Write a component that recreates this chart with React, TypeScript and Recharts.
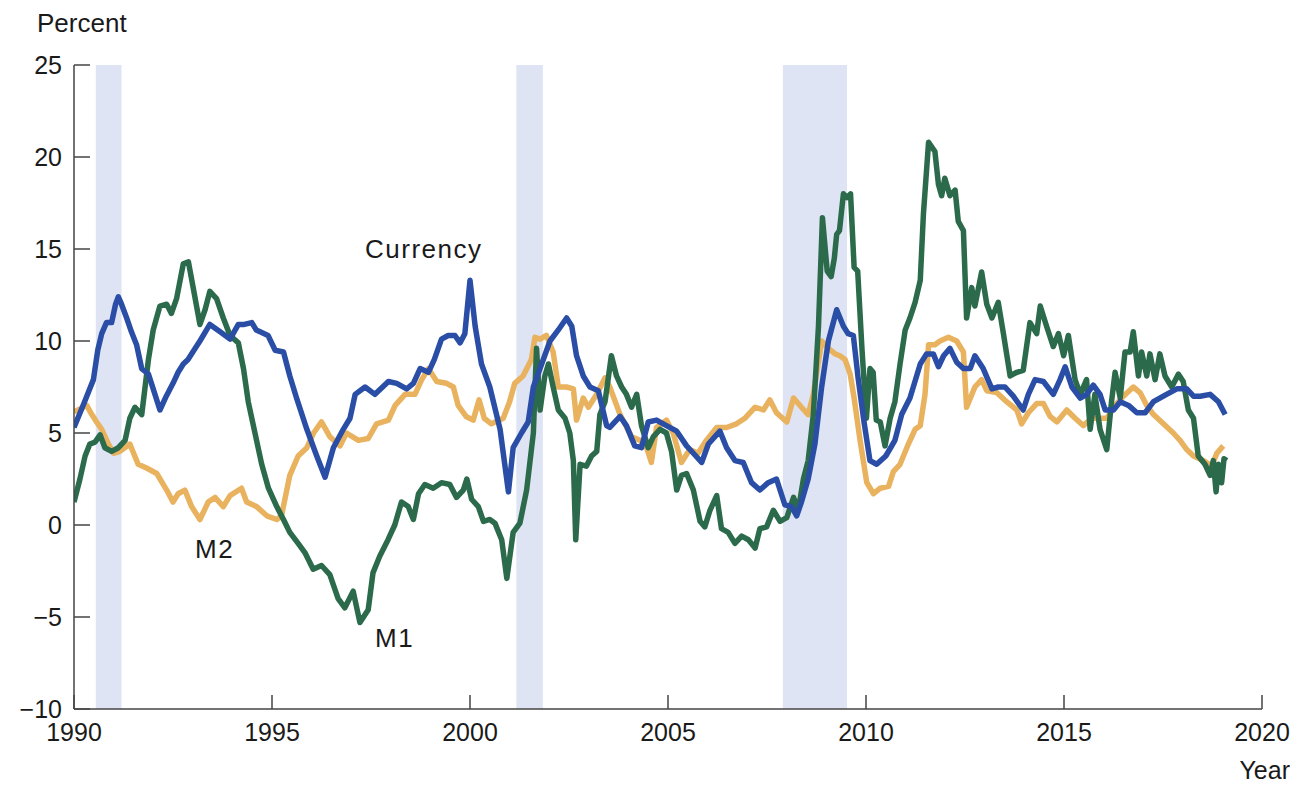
import { LineChart, Line, XAxis, YAxis, ReferenceArea, Customized } from 'recharts';

// axis ticks
const yearTicks = [1990, 1995, 2000, 2005, 2010, 2015, 2020];
const percentTicks = [-10, -5, 0, 5, 10, 15, 20, 25];

// recession periods (start, end in fractional years)
const recessions = [
  [1990.55, 1991.2],
  [2001.17, 2001.84],
  [2007.9, 2009.52],
];

// year-over-year growth, percent: [year, value]
const currency = [
  [1990.0, 5.3], [1990.25, 6.6], [1990.49, 7.9], [1990.6, 9.5], [1990.7, 10.4], [1990.82, 11.0],
  [1990.95, 11.0], [1991.05, 12.0], [1991.12, 12.4], [1991.2, 12.0], [1991.33, 11.25], [1991.45, 10.5],
  [1991.58, 9.8], [1991.71, 8.5], [1991.88, 8.2], [1992.0, 7.4], [1992.17, 6.25], [1992.33, 7.0],
  [1992.5, 7.7], [1992.63, 8.3], [1992.76, 8.75], [1992.88, 9.0], [1993.0, 9.4], [1993.18, 10.0],
  [1993.43, 10.9], [1993.69, 10.5], [1993.94, 10.1], [1994.15, 10.9], [1994.3, 10.9], [1994.49, 11.0],
  [1994.6, 10.6], [1994.7, 10.5], [1994.9, 10.3], [1995.08, 9.5], [1995.29, 9.4], [1995.45, 8.1],
  [1995.62, 6.9], [1995.88, 5.2], [1996.13, 3.75], [1996.34, 2.6], [1996.55, 4.2], [1996.8, 5.2],
  [1996.97, 5.8], [1997.1, 7.1], [1997.35, 7.5], [1997.6, 7.1], [1997.94, 7.8], [1998.15, 7.7],
  [1998.4, 7.4], [1998.57, 7.7], [1998.74, 8.5], [1998.95, 8.3], [1999.1, 9.0], [1999.28, 10.1],
  [1999.45, 10.3], [1999.62, 10.3], [1999.75, 9.9], [1999.87, 10.4], [2000.0, 13.3], [2000.13, 10.8],
  [2000.29, 8.75], [2000.5, 7.5], [2000.76, 5.2], [2000.97, 1.8], [2001.09, 4.2], [2001.3, 5.0],
  [2001.47, 5.6], [2001.6, 7.5], [2001.81, 8.75], [2002.02, 10.0], [2002.23, 10.6], [2002.44, 11.25],
  [2002.57, 10.8], [2002.69, 9.2], [2002.86, 8.1], [2003.03, 7.5], [2003.24, 7.3], [2003.45, 5.4],
  [2003.53, 5.3], [2003.79, 5.9], [2003.95, 5.4], [2004.16, 4.3], [2004.33, 4.2], [2004.5, 5.6],
  [2004.71, 5.7], [2004.96, 5.4], [2005.22, 5.1], [2005.47, 4.3], [2005.64, 3.9], [2005.85, 3.4],
  [2006.02, 4.4], [2006.31, 5.1], [2006.48, 4.2], [2006.69, 3.5], [2006.9, 3.4], [2007.11, 2.3],
  [2007.32, 1.9], [2007.53, 2.3], [2007.74, 2.5], [2007.95, 1.1], [2008.12, 1.0], [2008.25, 0.5],
  [2008.37, 1.25], [2008.54, 2.5], [2008.71, 4.4], [2008.88, 7.5], [2009.05, 10.0], [2009.26, 11.7],
  [2009.43, 10.8], [2009.55, 10.4], [2009.68, 10.3], [2009.8, 8.0], [2009.95, 5.6], [2010.1, 3.5],
  [2010.27, 3.3], [2010.5, 3.75], [2010.73, 4.6], [2010.9, 6.0], [2011.11, 6.9], [2011.37, 8.75],
  [2011.53, 9.3], [2011.7, 9.3], [2011.83, 8.6], [2011.96, 9.2], [2012.12, 9.6], [2012.29, 8.85],
  [2012.46, 8.5], [2012.63, 8.5], [2012.75, 9.2], [2012.96, 8.5], [2013.18, 7.4], [2013.34, 7.5],
  [2013.51, 7.5], [2013.72, 7.0], [2013.97, 6.25], [2014.1, 7.1], [2014.27, 7.9], [2014.48, 7.8],
  [2014.73, 7.1], [2014.9, 7.9], [2015.03, 8.6], [2015.2, 7.5], [2015.41, 6.9], [2015.57, 7.1],
  [2015.74, 7.6], [2015.91, 7.1], [2016.04, 6.25], [2016.25, 6.25], [2016.42, 6.7], [2016.63, 6.5],
  [2016.84, 6.1], [2017.05, 6.1], [2017.26, 6.7], [2017.59, 7.1], [2017.85, 7.4], [2018.1, 7.4],
  [2018.27, 7.0], [2018.44, 7.0], [2018.69, 7.1], [2018.9, 6.7], [2019.07, 6.0],
];

const m2 = [
  [1990.0, 6.15], [1990.15, 6.3], [1990.32, 6.5], [1990.45, 6.0], [1990.57, 5.6], [1990.7, 5.2],
  [1990.87, 4.4], [1991.0, 3.9], [1991.16, 4.0], [1991.41, 4.4], [1991.62, 3.3], [1991.83, 3.1],
  [1992.09, 2.8], [1992.34, 1.9], [1992.5, 1.25], [1992.63, 1.7], [1992.8, 1.9], [1992.97, 1.0],
  [1993.18, 0.3], [1993.39, 1.25], [1993.56, 1.5], [1993.77, 1.0], [1993.94, 1.6], [1994.23, 2.0],
  [1994.36, 1.25], [1994.61, 1.0], [1994.87, 0.5], [1995.12, 0.3], [1995.24, 0.5], [1995.45, 2.7],
  [1995.66, 3.75], [1995.88, 4.2], [1996.05, 5.0], [1996.25, 5.6], [1996.46, 4.8], [1996.72, 4.3],
  [1996.88, 5.0], [1997.18, 4.6], [1997.43, 4.7], [1997.64, 5.5], [1997.94, 5.7], [1998.11, 6.5],
  [1998.36, 7.1], [1998.61, 7.1], [1998.78, 7.9], [1998.95, 8.5], [1999.16, 7.8], [1999.41, 7.7],
  [1999.58, 7.5], [1999.7, 6.5], [1999.9, 5.9], [2000.08, 5.7], [2000.23, 6.8], [2000.36, 5.8],
  [2000.54, 5.5], [2000.84, 5.8], [2001.0, 6.7], [2001.13, 7.7], [2001.34, 8.1], [2001.55, 9.0],
  [2001.64, 10.2], [2001.77, 10.1], [2001.93, 10.3], [2002.1, 9.4], [2002.23, 7.5], [2002.44, 7.5],
  [2002.61, 7.4], [2002.69, 5.7], [2002.86, 6.9], [2002.99, 6.4], [2003.2, 7.1], [2003.41, 8.0],
  [2003.53, 7.5], [2003.79, 6.0], [2004.08, 4.8], [2004.29, 4.6], [2004.46, 4.2], [2004.58, 3.4],
  [2004.71, 5.3], [2004.96, 5.7], [2005.13, 5.0], [2005.34, 3.4], [2005.55, 4.1], [2005.76, 3.9],
  [2005.97, 4.6], [2006.23, 5.3], [2006.48, 5.3], [2006.73, 5.5], [2006.94, 5.8], [2007.2, 6.4],
  [2007.41, 6.25], [2007.57, 6.8], [2007.74, 6.1], [2008.0, 5.6], [2008.17, 6.9], [2008.37, 6.4],
  [2008.54, 6.0], [2008.67, 7.1], [2008.88, 10.0], [2009.05, 9.6], [2009.22, 9.3], [2009.34, 9.2],
  [2009.47, 9.0], [2009.6, 8.2], [2009.7, 6.9], [2009.85, 4.6], [2010.02, 2.3], [2010.19, 1.7],
  [2010.36, 2.0], [2010.57, 2.1], [2010.69, 2.9], [2010.86, 3.3], [2011.07, 4.4], [2011.24, 5.2],
  [2011.37, 5.4], [2011.49, 7.1], [2011.58, 9.8], [2011.74, 9.8], [2011.87, 10.0], [2012.08, 10.2],
  [2012.29, 10.0], [2012.46, 9.4], [2012.54, 6.4], [2012.75, 7.5], [2012.92, 7.9], [2013.05, 7.3],
  [2013.3, 7.2], [2013.55, 6.7], [2013.81, 6.25], [2013.93, 5.5], [2014.1, 6.1], [2014.31, 6.6],
  [2014.48, 6.6], [2014.65, 5.9], [2014.82, 5.6], [2015.07, 6.25], [2015.28, 5.8], [2015.49, 5.4],
  [2015.7, 5.8], [2015.91, 5.8], [2016.08, 5.8], [2016.29, 6.5], [2016.5, 7.0], [2016.75, 7.5],
  [2016.92, 7.2], [2017.09, 6.5], [2017.26, 6.0], [2017.51, 5.5], [2017.76, 5.0], [2017.93, 4.6],
  [2018.1, 4.1], [2018.27, 3.75], [2018.52, 3.5], [2018.73, 3.2], [2018.86, 3.9], [2019.02, 4.3],
];

const m1 = [
  [1990.0, 1.25], [1990.15, 2.5], [1990.28, 3.75], [1990.4, 4.4], [1990.53, 4.5], [1990.66, 4.9],
  [1990.78, 4.2], [1990.95, 4.0], [1991.12, 4.2], [1991.29, 4.6], [1991.41, 5.8], [1991.54, 6.4],
  [1991.71, 6.0], [1991.88, 9.0], [1992.0, 10.6], [1992.17, 11.9], [1992.34, 12.0], [1992.46, 11.5],
  [1992.59, 12.3], [1992.76, 14.2], [1992.89, 14.3], [1993.01, 12.9], [1993.18, 10.9], [1993.31, 11.7],
  [1993.43, 12.7], [1993.6, 12.3], [1993.77, 11.25], [1993.94, 10.3], [1994.15, 9.9], [1994.28, 8.5],
  [1994.4, 6.7], [1994.57, 5.0], [1994.74, 3.3], [1994.91, 2.0], [1995.12, 1.0], [1995.29, 0.3],
  [1995.45, -0.4], [1995.66, -1.0], [1995.83, -1.5], [1996.04, -2.4], [1996.25, -2.2], [1996.46, -2.7],
  [1996.67, -4.0], [1996.84, -4.5], [1997.05, -3.6], [1997.22, -5.3], [1997.43, -4.6], [1997.55, -2.6],
  [1997.72, -1.7], [1997.93, -0.8], [1998.1, 0.0], [1998.27, 1.25], [1998.44, 1.0], [1998.57, 0.3],
  [1998.7, 1.7], [1998.86, 2.2], [1999.07, 2.0], [1999.28, 2.3], [1999.49, 2.2], [1999.66, 1.5],
  [1999.83, 1.9], [1999.92, 2.5], [2000.04, 1.4], [2000.21, 1.0], [2000.34, 0.2], [2000.5, 0.3],
  [2000.63, 0.1], [2000.8, -0.8], [2000.93, -2.9], [2001.09, -0.4], [2001.26, 0.1], [2001.43, 1.9],
  [2001.6, 5.0], [2001.68, 9.6], [2001.77, 6.25], [2001.89, 8.1], [2001.98, 8.75], [2002.1, 7.5],
  [2002.23, 6.25], [2002.4, 5.8], [2002.52, 5.0], [2002.61, 3.5], [2002.67, -0.8], [2002.78, 3.3],
  [2002.94, 3.2], [2003.07, 3.75], [2003.2, 4.0], [2003.28, 6.0], [2003.41, 6.7], [2003.57, 9.2],
  [2003.7, 8.1], [2003.83, 7.5], [2003.95, 7.1], [2004.08, 6.4], [2004.21, 7.1], [2004.33, 5.4],
  [2004.5, 4.2], [2004.63, 4.8], [2004.8, 5.2], [2004.96, 5.0], [2005.09, 4.0], [2005.22, 1.9],
  [2005.34, 2.7], [2005.47, 2.8], [2005.64, 1.9], [2005.81, 0.2], [2005.93, -0.1], [2006.06, 0.8],
  [2006.23, 1.6], [2006.35, -0.2], [2006.52, -0.4], [2006.69, -1.0], [2006.86, -0.6], [2007.03, -0.8],
  [2007.2, -1.25], [2007.32, -0.2], [2007.49, -0.1], [2007.66, 0.8], [2007.83, 0.2], [2008.0, 0.4],
  [2008.17, 1.5], [2008.29, 0.8], [2008.42, 2.5], [2008.54, 3.5], [2008.67, 6.0], [2008.8, 10.8],
  [2008.9, 16.7], [2009.02, 13.8], [2009.12, 13.5], [2009.2, 14.5], [2009.26, 15.8], [2009.33, 16.0],
  [2009.43, 18.0], [2009.52, 17.8], [2009.61, 18.0], [2009.7, 14.0], [2009.79, 13.8], [2009.9, 9.5],
  [2010.01, 5.8], [2010.1, 8.5], [2010.18, 8.3], [2010.26, 5.7], [2010.36, 5.6], [2010.48, 4.3],
  [2010.61, 5.8], [2010.73, 6.7], [2010.86, 8.75], [2010.99, 10.6], [2011.11, 11.25], [2011.24, 12.1],
  [2011.37, 13.3], [2011.45, 16.9], [2011.58, 20.8], [2011.74, 20.3], [2011.83, 18.5], [2011.91, 17.9],
  [2011.99, 18.85], [2012.12, 17.9], [2012.25, 18.2], [2012.33, 16.5], [2012.46, 16.0], [2012.54, 11.25],
  [2012.67, 12.9], [2012.75, 11.9], [2012.92, 13.75], [2013.05, 12.0], [2013.18, 11.25], [2013.34, 12.1],
  [2013.47, 10.4], [2013.64, 8.1], [2013.81, 8.3], [2013.97, 8.4], [2014.14, 11.0], [2014.31, 10.4],
  [2014.4, 11.9], [2014.56, 10.8], [2014.73, 9.7], [2014.86, 10.4], [2014.99, 9.2], [2015.11, 10.3],
  [2015.28, 7.9], [2015.41, 7.1], [2015.57, 7.9], [2015.66, 5.2], [2015.78, 7.1], [2015.91, 5.2],
  [2016.08, 4.1], [2016.2, 6.7], [2016.29, 8.3], [2016.42, 6.9], [2016.54, 9.4], [2016.67, 9.4],
  [2016.75, 10.5], [2016.88, 8.1], [2016.96, 9.4], [2017.09, 8.1], [2017.17, 9.3], [2017.3, 7.9],
  [2017.42, 9.3], [2017.55, 8.1], [2017.72, 7.5], [2017.89, 8.2], [2018.01, 7.8], [2018.14, 6.25],
  [2018.27, 5.8], [2018.39, 3.75], [2018.56, 3.3], [2018.69, 2.7], [2018.77, 3.5], [2018.84, 1.8],
  [2018.9, 3.3], [2018.98, 2.3], [2019.04, 3.6], [2019.11, 3.5],
];

const toRows = (pts: number[][]) => pts.map(([year, v]) => ({ year, v }));

const font = 'Liberation Sans, Arial, Helvetica, sans-serif';
const tickStyle = { fontSize: 25, fill: '#1a1a1a', fontFamily: font };
const axisColor = '#444';

const Annotations = () => (
  <g fontFamily={font} fill="#1a1a1a">
    <text x={37} y={32} fontSize={26}>Percent</text>
    <text x={1290} y={779} fontSize={25} textAnchor="end">Year</text>
    <text x={365} y={258} fontSize={26} letterSpacing={1.5}>Currency</text>
    <text x={195} y={558} fontSize={26} letterSpacing={1.5}>M2</text>
    <text x={375} y={647} fontSize={26} letterSpacing={1.5}>M1</text>
  </g>
);

export default function App() {
  return (
    <div style={{ position: 'absolute', left: 0, top: 0, background: '#fff' }}>
      <LineChart width={1314} height={785} margin={{ top: 65, right: 52, bottom: 36, left: 14 }}>
        <XAxis
          type="number"
          dataKey="year"
          domain={[1990, 2020]}
          ticks={yearTicks}
          allowDataOverflow
          height={40}
          tick={tickStyle}
          tickSize={-14}
          tickMargin={28}
          stroke={axisColor}
          strokeWidth={1.5}
        />
        <YAxis
          type="number"
          domain={[-10, 25]}
          ticks={percentTicks}
          allowDataOverflow
          width={60}
          tick={tickStyle}
          tickSize={-16}
          tickMargin={28}
          tickFormatter={(v: number) => (v < 0 ? `\u2212${Math.abs(v)}` : `${v}`)}
          stroke={axisColor}
          strokeWidth={1.5}
        />
        {recessions.map(([a, b]) => (
          <ReferenceArea key={a} x1={a} x2={b} y1={-10} y2={25} fill="#dee4f3" fillOpacity={1} stroke="none" ifOverflow="hidden" />
        ))}
        <Line data={toRows(m2)} dataKey="v" type="linear" stroke="#e9b25e" strokeWidth={5.5} dot={false} strokeLinejoin="round" isAnimationActive={false} />
        <Line data={toRows(m1)} dataKey="v" type="linear" stroke="#2c6a4c" strokeWidth={5.5} dot={false} strokeLinejoin="round" isAnimationActive={false} />
        <Line data={toRows(currency)} dataKey="v" type="linear" stroke="#2a4ea6" strokeWidth={5.5} dot={false} strokeLinejoin="round" isAnimationActive={false} />
        <Customized component={Annotations} />
      </LineChart>
    </div>
  );
}
